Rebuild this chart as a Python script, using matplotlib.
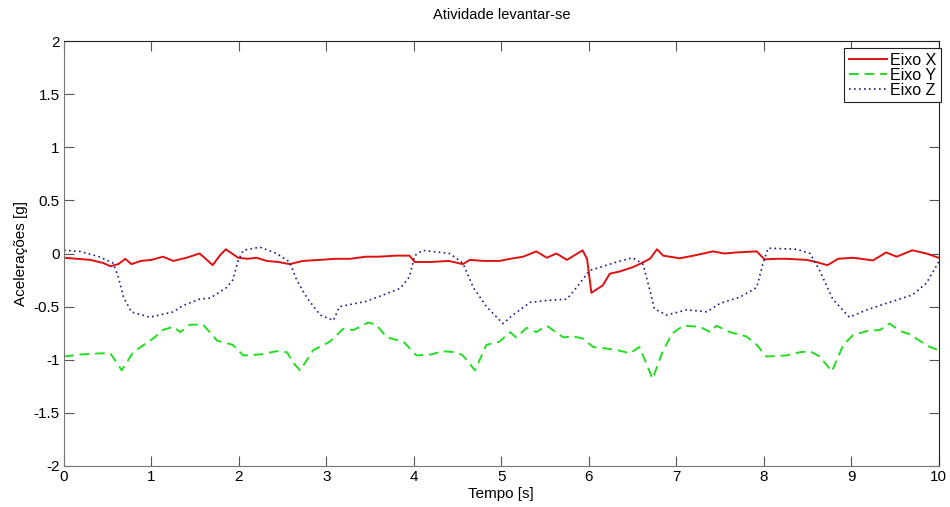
import numpy as np
import matplotlib.pyplot as plt
from matplotlib.ticker import FuncFormatter

plt.rcParams['font.family'] = ['Liberation Sans', 'DejaVu Sans']

# Eixo X (solid red)
tx = [0.0, 0.15, 0.3, 0.45, 0.53, 0.62, 0.70, 0.77, 0.88, 1.0, 1.13, 1.25, 1.4, 1.55,
      1.62, 1.70, 1.78, 1.85, 1.99, 2.1, 2.2, 2.32, 2.45, 2.58, 2.73, 2.93, 3.1, 3.27,
      3.45, 3.6, 3.8, 3.95, 4.01, 4.2, 4.4, 4.56, 4.64, 4.8, 4.98, 5.1, 5.25, 5.40,
      5.52, 5.63, 5.75, 5.93, 5.98, 6.03, 6.16, 6.24, 6.35, 6.5, 6.58, 6.70, 6.78,
      6.85, 7.04, 7.2, 7.42, 7.55, 7.69, 7.92, 8.01, 8.15, 8.26, 8.49, 8.6, 8.73,
      8.85, 9.02, 9.25, 9.40, 9.52, 9.70, 9.86, 10.0]
x_vals = [-0.04, -0.05, -0.06, -0.09, -0.12, -0.10, -0.05, -0.10, -0.07, -0.06, -0.03,
          -0.07, -0.04, 0.0, -0.05, -0.11, -0.02, 0.04, -0.04, -0.05, -0.04, -0.07,
          -0.08, -0.10, -0.07, -0.06, -0.05, -0.05, -0.03, -0.03, -0.02, -0.02, -0.08,
          -0.08, -0.07, -0.10, -0.06, -0.07, -0.07, -0.05, -0.03, 0.02, -0.04, 0.0,
          -0.06, 0.03, -0.05, -0.37, -0.30, -0.19, -0.17, -0.13, -0.10, -0.05, 0.04,
          -0.02, -0.045, -0.02, 0.02, 0.0, 0.01, 0.02, -0.055, -0.05, -0.05, -0.06,
          -0.08, -0.11, -0.05, -0.04, -0.065, 0.01, -0.03, 0.03, 0.0, -0.04]

# Eixo Y (dashed green)
ty = [0.0, 0.2, 0.41, 0.53, 0.66, 0.79, 1.02, 1.13, 1.25, 1.33, 1.44, 1.59, 1.75,
      1.93, 2.05, 2.25, 2.43, 2.55, 2.62, 2.70, 2.85, 3.04, 3.19, 3.31, 3.48, 3.57,
      3.69, 3.88, 4.03, 4.2, 4.33, 4.49, 4.56, 4.70, 4.83, 4.98, 5.10, 5.17, 5.29,
      5.40, 5.52, 5.71, 5.82, 5.93, 6.05, 6.16, 6.33, 6.47, 6.58, 6.73, 6.85, 6.96,
      7.08, 7.27, 7.39, 7.46, 7.61, 7.80, 7.92, 8.03, 8.26, 8.41, 8.53, 8.64, 8.78,
      8.91, 9.02, 9.18, 9.33, 9.44, 9.56, 9.67, 9.78, 9.90, 10.0]
y_vals = [-0.97, -0.95, -0.94, -0.94, -1.10, -0.93, -0.80, -0.72, -0.69, -0.74, -0.67,
          -0.67, -0.82, -0.86, -0.96, -0.95, -0.92, -0.93, -1.03, -1.10, -0.91, -0.83,
          -0.71, -0.72, -0.65, -0.67, -0.79, -0.83, -0.96, -0.95, -0.92, -0.93, -0.96,
          -1.10, -0.86, -0.83, -0.74, -0.79, -0.70, -0.74, -0.68, -0.79, -0.78, -0.80,
          -0.88, -0.89, -0.91, -0.94, -0.88, -1.18, -0.91, -0.75, -0.68, -0.69, -0.74,
          -0.68, -0.74, -0.78, -0.86, -0.97, -0.96, -0.93, -0.92, -0.97, -1.11, -0.86,
          -0.77, -0.73, -0.72, -0.66, -0.73, -0.76, -0.82, -0.88, -0.91]

# Eixo Z (dotted blue)
tz = [0.0, 0.18, 0.4, 0.56, 0.62, 0.68, 0.77, 0.98, 1.25, 1.36, 1.55, 1.67, 1.86, 1.93,
      1.99, 2.05, 2.24, 2.43, 2.58, 2.66, 2.78, 2.93, 3.08, 3.15, 3.46, 3.65, 3.84,
      3.95, 4.01, 4.10, 4.41, 4.56, 4.68, 4.83, 5.02, 5.13, 5.33, 5.55, 5.75, 5.86,
      6.01, 6.32, 6.50, 6.62, 6.70, 6.75, 6.89, 7.12, 7.35, 7.50, 7.73, 7.92, 7.99,
      8.05, 8.38, 8.53, 8.64, 8.79, 8.98, 9.18, 9.40, 9.70, 9.86, 10.0]
z_vals = [0.03, 0.02, -0.03, -0.09, -0.22, -0.41, -0.55, -0.60, -0.55, -0.49, -0.43,
          -0.42, -0.32, -0.25, -0.07, 0.03, 0.06, 0.0, -0.08, -0.25, -0.42, -0.58,
          -0.63, -0.50, -0.45, -0.39, -0.33, -0.22, -0.02, 0.03, 0.0, -0.09, -0.32,
          -0.50, -0.66, -0.58, -0.46, -0.44, -0.43, -0.32, -0.16, -0.08, -0.04, -0.10,
          -0.35, -0.52, -0.58, -0.53, -0.55, -0.47, -0.41, -0.32, -0.10, 0.05, 0.04,
          0.0, -0.16, -0.43, -0.60, -0.53, -0.47, -0.39, -0.28, -0.08]

fig = plt.figure(figsize=(9.5, 5.07), dpi=100)
ax = fig.add_axes([0.0674, 0.081, 0.9206, 0.838])

ax.plot(tx, x_vals, color='#e01010', lw=1.4, label='Eixo X')
ax.plot(ty, y_vals, color='#22dd22', lw=1.4, ls=(0, (5, 3)), label='Eixo Y')
ax.plot(tz, z_vals, color='#1c1c8c', lw=1.2, ls=(0, (1, 2)), label='Eixo Z')

ax.set_xlim(0, 10)
ax.set_ylim(-2, 2)
ax.set_xticks(np.arange(0, 11, 1))
ax.set_yticks(np.arange(-2, 2.01, 0.5))
ax.yaxis.set_major_formatter(FuncFormatter(lambda v, p: '%g' % v))
ax.tick_params(direction='in', length=7, width=0.8, top=True, right=True,
               labelsize=11, color='#555555', pad=3)

for s in ['left', 'bottom']:
    ax.spines[s].set_color('#777777')
for s in ['top', 'right']:
    ax.spines[s].set_color('#222222')

ax.set_title('Atividade levantar-se', fontsize=10.5, pad=16)
ax.set_xlabel('Tempo [s]', fontsize=11, labelpad=2)
ax.set_ylabel('Acelerações [g]', fontsize=11, labelpad=4)

leg = ax.legend(loc='upper right', fontsize=11.5, fancybox=False, framealpha=1,
                edgecolor='#222222', borderaxespad=0.0, handlelength=2.4,
                handletextpad=0.2, labelspacing=0.0, borderpad=0.3,
                bbox_to_anchor=(1.003, 0.984))
leg.get_frame().set_linewidth(0.8)

fig.savefig('out.png', dpi=100)
